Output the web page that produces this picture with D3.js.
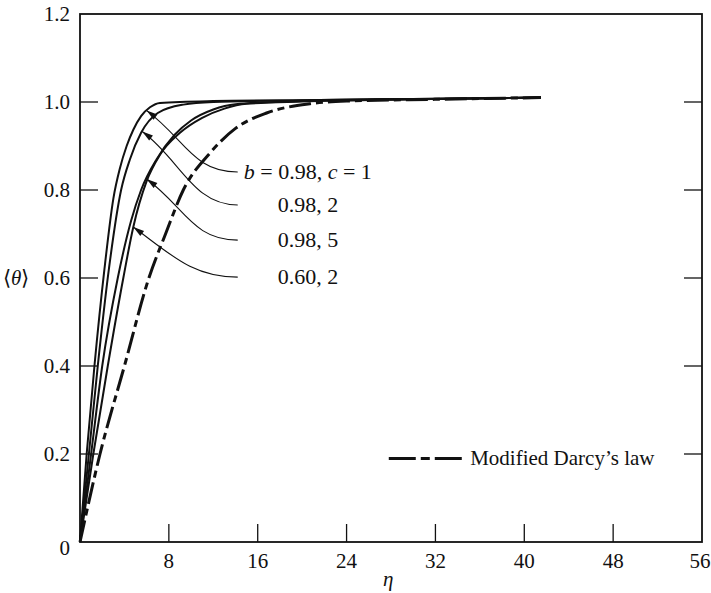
<!DOCTYPE html>
<html>
<head>
  <meta charset="utf-8">
  <script src="https://d3js.org/d3.v7.min.js"></script>
  <style>
    body { margin: 0; background: #fff; }
    text { font-family: "Liberation Serif", "Times New Roman", serif; fill: #111; }
  </style>
</head>
<body>
<script>
// eta values and <theta> for each curve
var curve1 = [[0,0],[0.6,0.2],[1.3,0.4],[2.2,0.62],[3.0,0.78],[3.6,0.85],[4.2,0.9],[4.8,0.937],[5.5,0.968],[6.3,0.988],[7.2,0.998],[12,1.002],[20,1.004],[30,1.007],[41.5,1.01]];
var curve2 = [[0,0],[0.8,0.2],[1.6,0.4],[2.6,0.62],[3.7,0.8],[4.5,0.87],[5.5,0.93],[7,0.975],[9.3,0.994],[12,1.0],[20,1.004],[30,1.007],[41.5,1.01]];
var curve3 = [[0,0],[1.0,0.2],[2.0,0.4],[3.4,0.6],[4.6,0.73],[5.5,0.8],[6.9,0.87],[8.5,0.925],[10,0.958],[12,0.983],[14,0.995],[20,1.002],[30,1.006],[41.5,1.01]];
var curve4 = [[0,0],[1.2,0.2],[2.5,0.4],[3.9,0.6],[4.8,0.716],[6.0,0.82],[7.2,0.88],[9,0.93],[11,0.964],[13,0.985],[15,0.996],[20,1.001],[30,1.006],[41.5,1.01]];
var darcy  = [[0,0],[1.8,0.2],[4.0,0.4],[6.2,0.6],[7.7,0.7],[9.3,0.8],[11.7,0.884],[14,0.94],[16.8,0.975],[20.7,0.996],[24,1.002],[32,1.006],[41.5,1.01]];

var xTicks = [8, 16, 24, 32, 40, 48, 56];
var yTicks = [0.2, 0.4, 0.6, 0.8, 1.0, 1.2];

// labels: curve, eta of arrow tip, leader end (eta, theta), text
var labels = [
  {data: curve1, tip: 6.0, end: [14.2, 0.841], pre: true,  text: "0.98, "},
  {data: curve2, tip: 5.6, end: [14.2, 0.766], pre: false, text: "0.98, 2"},
  {data: curve3, tip: 6.0, end: [14.2, 0.686], pre: false, text: "0.98, 5"},
  {data: curve4, tip: 4.8, end: [14.2, 0.602], pre: false, text: "0.60, 2"}
];

var W = 711, H = 593;
var x = d3.scaleLinear().domain([0, 56]).range([80, 702]);
var y = d3.scaleLinear().domain([0, 1.2]).range([542, 14]);

var svg = d3.select("body").append("svg")
    .attr("width", W).attr("height", H);

// frame
svg.append("rect")
    .attr("x", x(0)).attr("y", y(1.2))
    .attr("width", x(56) - x(0)).attr("height", y(0) - y(1.2))
    .attr("fill", "none").attr("stroke", "#111").attr("stroke-width", 1.8);

// inward ticks
var tl = 18;
svg.selectAll(".xt").data(xTicks.slice(0, -1)).enter().append("line")
    .attr("x1", d => x(d)).attr("x2", d => x(d))
    .attr("y1", y(0)).attr("y2", y(0) - tl)
    .attr("stroke", "#111").attr("stroke-width", 1.3);
svg.selectAll(".yt").data(yTicks.slice(0, -1)).enter().append("line")
    .attr("x1", x(0)).attr("x2", x(0) + tl)
    .attr("y1", d => y(d)).attr("y2", d => y(d))
    .attr("stroke", "#111").attr("stroke-width", 1.3);
svg.selectAll(".yt2").data(yTicks.slice(0, -1)).enter().append("line")
    .attr("x1", x(56)).attr("x2", x(56) - tl)
    .attr("y1", d => y(d)).attr("y2", d => y(d))
    .attr("stroke", "#111").attr("stroke-width", 1.3);

// tick labels
var fs = 21;
svg.selectAll(".xl").data(xTicks).enter().append("text")
    .attr("x", d => x(d)).attr("y", y(0) + 26)
    .attr("dx", d => d === 56 ? -2 : 0)
    .attr("text-anchor", "middle").attr("font-size", fs)
    .text(d => d);
svg.selectAll(".yl").data(yTicks).enter().append("text")
    .attr("x", x(0) - 10).attr("y", d => y(d) + 7)
    .attr("text-anchor", "end").attr("font-size", fs)
    .text(d => d.toFixed(1));
svg.append("text").attr("x", x(0) - 10).attr("y", y(0) + 13)
    .attr("text-anchor", "end").attr("font-size", fs).text("0");

// axis titles
var yt = svg.append("text").attr("x", 3).attr("y", y(0.6) + 7).attr("font-size", fs);
yt.append("tspan").text("\u27E8");
yt.append("tspan").attr("font-style", "italic").text("\u03B8");
yt.append("tspan").text("\u27E9");
svg.append("text").attr("x", 383).attr("y", 586)
    .attr("font-size", fs).attr("font-style", "italic").text("\u03B7");

// curves
var line = d3.line().x(d => x(d[0])).y(d => y(d[1])).curve(d3.curveMonotoneX);
[curve1, curve2, curve3, curve4].forEach(function (c) {
  svg.append("path").attr("d", line(c))
      .attr("fill", "none").attr("stroke", "#111").attr("stroke-width", 2);
});
svg.append("path").attr("d", line(darcy))
    .attr("fill", "none").attr("stroke", "#111").attr("stroke-width", 3)
    .attr("stroke-dasharray", "22,5,7,5");

// value on a curve at eta (linear between read points)
function at(c, e) {
  var i = d3.bisector(d => d[0]).left(c, e);
  if (i <= 0) return c[0][1];
  var a = c[i - 1], b = c[i], t = (e - a[0]) / (b[0] - a[0]);
  return a[1] + t * (b[1] - a[1]);
}

// leaders with arrows
labels.forEach(function (l) {
  var tx = x(l.tip), ty = y(at(l.data, l.tip));
  var ex = x(l.end[0]), ey = y(l.end[1]);
  var c1x = tx + 38, c1y = ty + 28;
  svg.append("path")
      .attr("d", "M" + tx + "," + ty + " C" + c1x + "," + c1y + " " + (ex - 45) + "," + ey + " " + ex + "," + ey)
      .attr("fill", "none").attr("stroke", "#111").attr("stroke-width", 1.1);
  var ang = Math.atan2(c1y - ty, c1x - tx);
  var len = 11, hw = 3.2;
  var bx = tx + len * Math.cos(ang), by = ty + len * Math.sin(ang);
  var px = -Math.sin(ang) * hw, py = Math.cos(ang) * hw;
  svg.append("path")
      .attr("d", "M" + tx + "," + ty + " L" + (bx + px) + "," + (by + py) + " L" + (bx - px) + "," + (by - py) + "Z")
      .attr("fill", "#111");

  var t = svg.append("text").attr("y", ey + 7).attr("font-size", 22);
  if (l.pre) {
    t.attr("x", ex + 6);
    t.append("tspan").attr("font-style", "italic").text("b");
    t.append("tspan").text(" = " + l.text);
    t.append("tspan").attr("font-style", "italic").text("c");
    t.append("tspan").text(" = 1");
  } else {
    t.attr("x", ex + 40).text(l.text);
  }
});

// legend
svg.append("line")
    .attr("x1", x(27.8)).attr("x2", x(34.5))
    .attr("y1", y(0.19)).attr("y2", y(0.19))
    .attr("stroke", "#111").attr("stroke-width", 3)
    .attr("stroke-dasharray", "27,5,9,5");
svg.append("text").attr("x", x(34.5) + 7).attr("y", y(0.19) + 7)
    .attr("font-size", 21).text("Modified Darcy\u2019s law");
</script>
</body>
</html>
